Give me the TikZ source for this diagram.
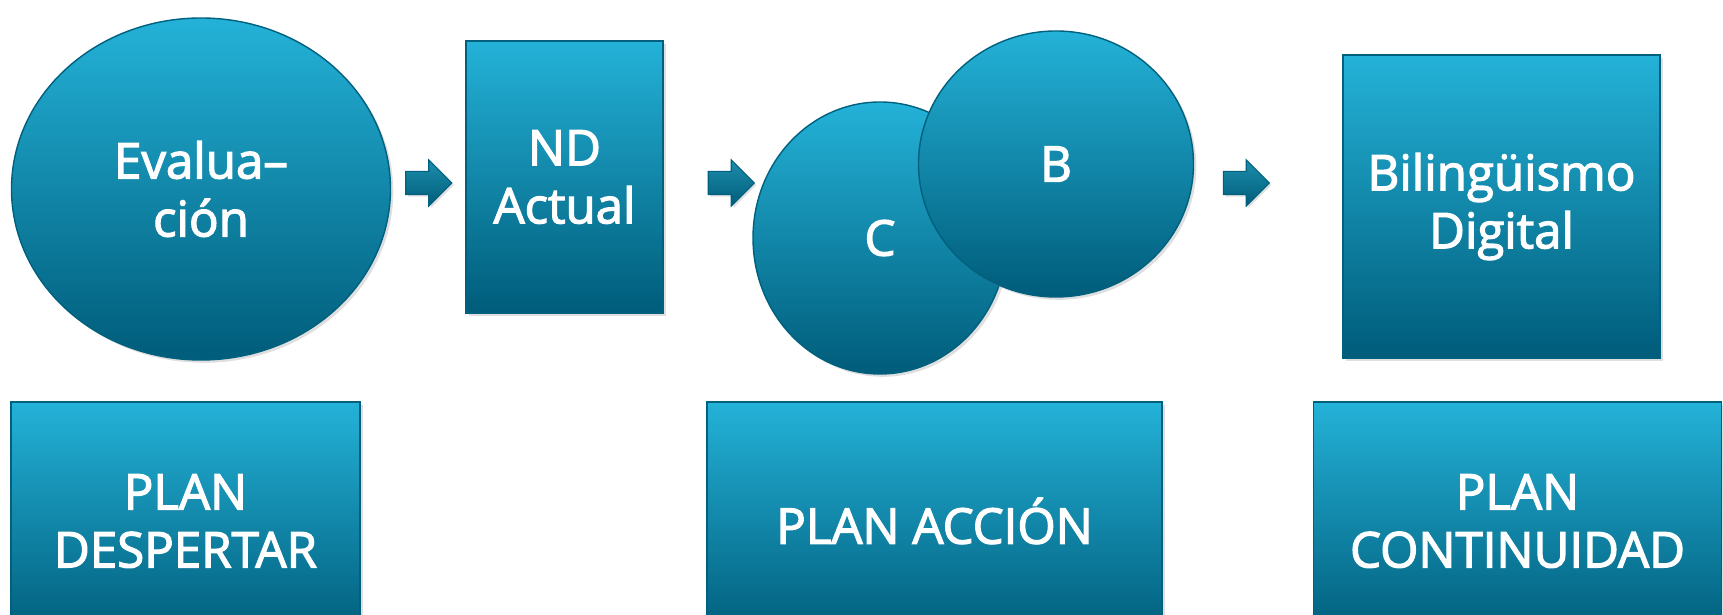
\documentclass[tikz,border=0pt]{standalone}
\usepackage{fontspec}
\setmainfont{Open Sans}[FakeBold=2.5]
\usetikzlibrary{shapes.geometric,shapes.arrows,shadows}

\definecolor{tealtop}{RGB}{36,178,216}
\definecolor{tealbot}{RGB}{0,92,122}
\definecolor{tealline}{RGB}{0,96,126}

\begin{document}
\begin{tikzpicture}[
    blok/.style={draw=tealline, line width=0.4pt, top color=tealtop, bottom color=tealbot,
      text=white, align=center, inner sep=0pt,
      font=\fontsize{14}{16.5}\selectfont,
      drop shadow={opacity=0.25, shadow xshift=0.8pt, shadow yshift=-0.8pt}},
    bola/.style={blok, ellipse},
    caja/.style={blok, rectangle},
    flecha/.style={single arrow, draw=tealline, line width=0.3pt, top color=tealtop!80!black,
      bottom color=tealbot, inner xsep=0pt, inner ysep=0.11cm, minimum height=0.46cm,
      single arrow head extend=0.115cm,
      drop shadow={opacity=0.25, shadow xshift=0.6pt, shadow yshift=-0.6pt}}]

  \useasboundingbox (0,0) rectangle (17.23,6.15);
  \clip (0,0) rectangle (17.23,6.15);

  % fila de arriba
  \node[bola, minimum width=3.79cm, minimum height=3.42cm] (eval) at (2.01,4.26) {Evalua–\\ción};
  \node[caja, minimum width=1.97cm, minimum height=2.72cm] (nd) at (5.645,4.38) {ND\\Actual};
  \node[bola, minimum width=2.54cm, minimum height=2.72cm] (c) at (8.80,3.77) {C};
  \node[bola, minimum width=2.75cm, minimum height=2.66cm] (b) at (10.56,4.51) {B};
  \node[caja, minimum width=3.17cm, minimum height=3.03cm] (bil) at (15.015,4.085) {Bilingüismo\\Digital};

  \node[flecha] (f1) at (4.23,4.32) {};
  \node[flecha] (f2) at (7.255,4.32) {};
  \node[flecha] (f3) at (12.405,4.32) {};

  % fila de abajo
  \node[caja, minimum width=3.49cm, minimum height=2.38cm] (despertar) at (1.855,0.94) {PLAN\\DESPERTAR};
  \node[caja, minimum width=4.55cm, minimum height=2.38cm] (accion) at (9.345,0.94) {PLAN ACCIÓN};
  \node[caja, minimum width=4.08cm, minimum height=2.38cm] (cont) at (15.175,0.94) {PLAN\\CONTINUIDAD};
\end{tikzpicture}
\end{document}
